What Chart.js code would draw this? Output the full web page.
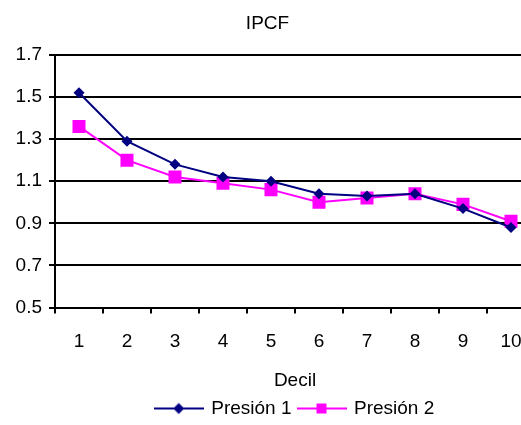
<!DOCTYPE html>
<html>
<head>
<meta charset="utf-8">
<script src="https://cdn.jsdelivr.net/npm/chart.js@4/dist/chart.umd.min.js"></script>
<style>
  html, body { margin: 0; padding: 0; overflow: hidden; background: #fff; }
  #wrap { width: 548px; height: 425px; }
</style>
</head>
<body>
<div id="wrap"><canvas id="c" width="548" height="425"></canvas></div>
<script>
const deciles = ['1', '2', '3', '4', '5', '6', '7', '8', '9', '10'];
const presion1 = [1.52, 1.29, 1.18, 1.12, 1.10, 1.04, 1.03, 1.04, 0.97, 0.88];
const presion2 = [1.36, 1.20, 1.12, 1.09, 1.06, 1.00, 1.02, 1.04, 0.99, 0.91];
const seriesNames = ['Presión 1', 'Presión 2'];
const yTicks = [0.5, 0.7, 0.9, 1.1, 1.3, 1.5, 1.7];

const NAVY = '#000080';
const MAGENTA = '#FF00FF';
const FONT = "'Liberation Sans', Arial, sans-serif";
const FS = 19;

function legendIcon(color, style) {
  const c = document.createElement('canvas');
  c.width = 50; c.height = 14;
  const g = c.getContext('2d');
  g.strokeStyle = color; g.lineWidth = 2;
  g.beginPath(); g.moveTo(0, 7); g.lineTo(50, 7); g.stroke();
  g.fillStyle = color;
  if (style === 'diamond') {
    g.beginPath(); g.moveTo(25, 1.5); g.lineTo(30.5, 7); g.lineTo(25, 12.5); g.lineTo(19.5, 7); g.closePath(); g.fill();
  } else {
    g.fillRect(20, 2, 10, 10);
  }
  return c;
}
const icons = [legendIcon(NAVY, 'diamond'), legendIcon(MAGENTA, 'square')];

new Chart(document.getElementById('c'), {
  type: 'line',
  data: {
    labels: deciles,
    datasets: [
      {
        label: seriesNames[0], data: presion1,
        borderColor: NAVY, backgroundColor: NAVY, borderWidth: 2,
        pointStyle: 'rectRot', pointRadius: 5.5, pointBorderWidth: 0,
        pointBackgroundColor: NAVY, tension: 0
      },
      {
        label: seriesNames[1], data: presion2,
        borderColor: MAGENTA, backgroundColor: MAGENTA, borderWidth: 2,
        pointStyle: 'rect', pointRadius: 9.2, pointBorderWidth: 0,
        pointBackgroundColor: MAGENTA, tension: 0
      }
    ]
  },
  options: {
    responsive: false,
    animation: false,
    devicePixelRatio: 1,
    layout: { padding: { left: 0, right: 13, top: 0, bottom: -3 } },
    plugins: {
      title: {
        display: true, text: 'IPCF', color: '#000',
        font: { family: FONT, size: FS, weight: 'normal' },
        padding: { top: 12, bottom: 20 }
      },
      legend: {
        position: 'bottom', fullSize: false,
        labels: {
          color: '#000', font: { family: FONT, size: FS },
          usePointStyle: true, pointStyleWidth: 46, boxHeight: 14, padding: 7,
          generateLabels: (chart) => chart.data.datasets.map((ds, i) => ({
            text: ds.label, pointStyle: icons[i], fillStyle: ds.borderColor,
            strokeStyle: ds.borderColor, lineWidth: 0, hidden: false, datasetIndex: i
          }))
        }
      },
      tooltip: { enabled: false }
    },
    scales: {
      x: {
        type: 'category', offset: true,
        afterFit: (scale) => { scale.height = 84.4; },
        grid: { display: true, offset: true, drawOnChartArea: false, drawTicks: true, tickLength: 6, color: '#000', lineWidth: 2 },
        border: { display: true, color: '#000', width: 2 },
        ticks: { color: '#000', font: { family: FONT, size: FS }, padding: 17, maxRotation: 0 },
        title: { display: true, text: 'Decil', color: '#000', font: { family: FONT, size: FS }, padding: { top: 3, bottom: 0 } }
      },
      y: {
        min: 0.5, max: 1.7,
        afterBuildTicks: (scale) => { scale.ticks = yTicks.map(v => ({ value: v })); },
        afterFit: (scale) => { scale.width = 55; },
        grid: { color: '#000', lineWidth: 2, tickLength: 6, drawTicks: true },
        border: { display: true, color: '#000', width: 2 },
        ticks: { color: '#000', font: { family: FONT, size: FS }, padding: 7, callback: (v) => Number(v).toFixed(1) }
      }
    }
  }
});
</script>
</body>
</html>
